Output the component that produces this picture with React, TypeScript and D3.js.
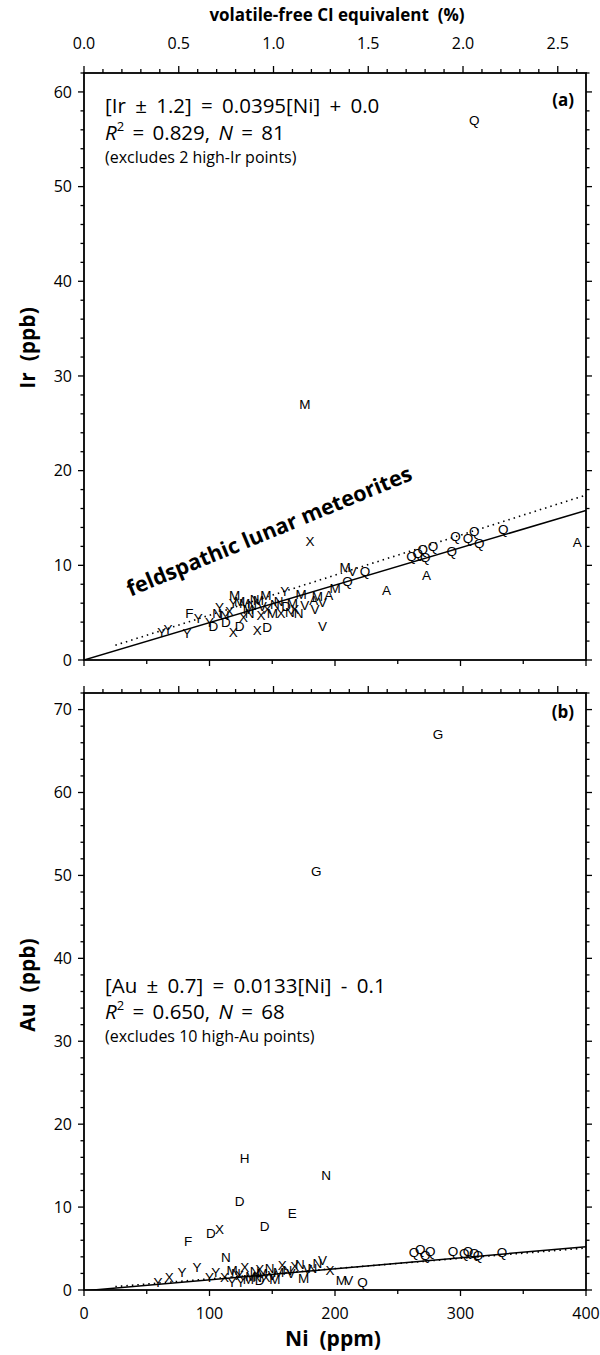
import React from "react";
import * as d3 from "d3";

// Ni ppm per 1% volatile-free CI
const CI_NI_PER_PCT = 151;

const niTicks = [0, 50, 100, 150, 200, 250, 300, 350, 400];
const niLabels = ["0", "100", "200", "300", "400"];
const pctLabels = ["0.0", "0.5", "1.0", "1.5", "2.0", "2.5"];
const irLabels = [0, 10, 20, 30, 40, 50, 60];
const auLabels = [0, 10, 20, 30, 40, 50, 60, 70];

// panel (a): [letter, Ni, Ir]
const irPoints: [string, number, number][] = [
  ["Q", 311, 57], ["M", 176, 27], ["X", 180, 12.6],
  ["A", 393, 12.5], ["A", 273, 9.0], ["A", 241, 7.4],
  ["M", 208, 9.8], ["V", 214, 9.4], ["M", 200, 7.6], ["Q", 210, 8.3], ["V", 190, 3.6],
  ["Q", 224, 9.4], ["Q", 261, 11.0], ["Q", 266, 11.3], ["Q", 270, 11.7], ["Q", 272, 10.9],
  ["Q", 278, 12.0], ["Q", 293, 11.5], ["Q", 296, 13.1], ["Q", 306, 12.9], ["Q", 311, 13.6],
  ["Q", 315, 12.3], ["Q", 334, 13.8],
  ["Y", 62, 2.9], ["Y", 67, 3.3], ["Y", 82, 2.8], ["F", 84, 5.0], ["Y", 91, 4.4],
  ["D", 103, 3.6], ["X", 119, 2.9], ["D", 124, 3.6], ["X", 138, 3.2], ["D", 146, 3.5],
  ["Y", 108, 5.6], ["N", 106, 4.9], ["N", 112, 4.7], ["M", 120, 6.8], ["M", 124, 6.2],
  ["X", 116, 5.2], ["Y", 119, 6.0], ["M", 128, 6.0], ["N", 134, 5.8], ["M", 139, 6.3],
  ["V", 142, 5.7], ["X", 146, 5.4], ["N", 152, 5.9], ["M", 150, 5.0], ["X", 157, 5.0],
  ["D", 161, 5.7], ["N", 164, 5.1], ["X", 168, 5.4], ["N", 171, 5.0], ["V", 176, 5.8],
  ["A", 183, 6.3], ["M", 186, 6.7], ["V", 184, 5.4], ["Y", 160, 7.3], ["M", 173, 7.0],
  ["A", 195, 6.8], ["V", 190, 6.1], ["N", 132, 5.0], ["X", 127, 4.5], ["D", 113, 4.0],
  ["Y", 100, 4.0], ["M", 145, 6.9], ["N", 136, 6.4], ["M", 131, 5.4], ["X", 141, 4.7],
  ["N", 155, 6.2], ["M", 166, 6.0],
];

// panel (b): [letter, Ni, Au]
const auPoints: [string, number, number][] = [
  ["G", 282, 67], ["G", 185, 50.5], ["H", 128, 15.9], ["N", 193, 13.9],
  ["D", 124, 10.7], ["E", 166, 9.3], ["D", 144, 7.7], ["X", 108, 7.4], ["D", 101, 6.9],
  ["F", 83, 5.9],
  ["Q", 263, 4.6], ["Q", 268, 4.9], ["Q", 272, 4.2], ["Q", 276, 4.7], ["Q", 294, 4.7],
  ["Q", 303, 4.4], ["Q", 306, 4.7], ["Q", 311, 4.5], ["Q", 333, 4.6], ["Q", 314, 4.2],
  ["Q", 222, 0.9],
  ["Y", 59, 0.9], ["X", 68, 1.5], ["Y", 78, 2.1], ["Y", 90, 2.8], ["N", 113, 4.0],
  ["Y", 105, 2.2], ["X", 112, 1.5], ["M", 118, 2.4], ["N", 121, 2.0], ["Y", 125, 1.0],
  ["X", 128, 2.8], ["M", 133, 1.7], ["N", 136, 2.3], ["D", 140, 1.2], ["M", 142, 2.0],
  ["X", 145, 1.5], ["N", 148, 2.6], ["V", 150, 1.8], ["M", 155, 2.2], ["X", 158, 3.0],
  ["N", 162, 2.4], ["V", 165, 2.0], ["X", 168, 2.9], ["N", 172, 3.1], ["M", 175, 1.4],
  ["V", 178, 2.5], ["N", 182, 2.6], ["V", 190, 3.6], ["X", 196, 2.4], ["M", 205, 1.2],
  ["V", 211, 1.2], ["Y", 118, 1.0], ["M", 131, 1.3], ["N", 138, 1.6], ["X", 124, 1.8],
  ["Y", 100, 1.6], ["M", 152, 1.3], ["N", 186, 3.2], ["X", 140, 2.5],
];

// fit lines: [slope, intercept, startNi]
const irFit = [0.0395, 0.0, 0];
const irDotted = [0.0423, 0.5, 25];
const auFit = [0.0133, -0.1, 0];
const auDotted = [0.0124, 0.1, 25];

const FONT = "'Open Sans', 'DejaVu Sans', sans-serif";
const MARK_FONT = "'Liberation Sans', Arial, sans-serif";
const SP = "\u00a0 ";

const x = d3.scaleLinear().domain([0, 400]).range([84, 586]);
const xPct = (p: number) => x(p * CI_NI_PER_PCT);
const yA = d3.scaleLinear().domain([0, 62]).range([660, 73]);
const yB = d3.scaleLinear().domain([0, 72]).range([1290, 693]);

const Panel = ({ y, points, fit, dotted, yLabels, topLabels, bottomLabels }: any) => {
  const [y0, y1] = y.range();
  const yMax = y.domain()[1];
  const fitPath = d3.line<number>().x((n) => x(n)).y((n) => y(fit[0] * n + fit[1]))([fit[2], 400]);
  const dotPath = d3.line<number>().x((n) => x(n)).y((n) => y(dotted[0] * n + dotted[1]))([dotted[2], 400]);
  const yTicks = d3.range(0, yMax + 0.001, 2);
  const pctTicks = d3.range(0, 27).map((i) => i / 10);
  return (
    <g>
      <defs>
        <clipPath id={`clip${y0}`}>
          <rect x={84} y={y1} width={502} height={y0 - y1} />
        </clipPath>
      </defs>
      <g clipPath={`url(#clip${y0})`}>
        <path d={fitPath || ""} stroke="#000" strokeWidth={1.5} fill="none" />
        <path d={dotPath || ""} stroke="#000" strokeWidth={1.6} strokeDasharray="1.5,4" fill="none" />
      </g>
      {points.map(([c, ni, v]: [string, number, number], i: number) => (
        <text key={i} x={x(ni)} y={y(v)} dy="0.36em" textAnchor="middle"
          fontFamily={MARK_FONT} fontSize={13.5} fill="#000">{c}</text>
      ))}
      <rect x={84} y={y1} width={502} height={y0 - y1} fill="none" stroke="#000" strokeWidth={1.8} />
      {yTicks.map((t) => {
        const len = t % 10 === 0 ? 6 : 3.5;
        return (
          <g key={t}>
            <line x1={84 - len} x2={84} y1={y(t)} y2={y(t)} stroke="#000" strokeWidth={1.3} />
            <line x1={586} x2={586 + len} y1={y(t)} y2={y(t)} stroke="#000" strokeWidth={1.3} />
          </g>
        );
      })}
      {yLabels.map((t: number) => (
        <text key={t} x={72} y={y(t)} dy="0.36em" textAnchor="end" fontFamily={FONT} fontSize={16}>{t}</text>
      ))}
      {niTicks.map((t) => (
        <line key={t} x1={x(t)} x2={x(t)} y1={y0} y2={y0 + (t % 100 === 0 ? 6 : 4)} stroke="#000" strokeWidth={1.3} />
      ))}
      {pctTicks.map((p, i) => (
        <line key={i} x1={xPct(p)} x2={xPct(p)} y1={y1} y2={y1 - (i % 5 === 0 ? 7 : 4)} stroke="#000" strokeWidth={1.3} />
      ))}
      {topLabels && pctLabels.map((l) => (
        <text key={l} x={xPct(+l)} y={49} textAnchor="middle" fontFamily={FONT} fontSize={16}>{l}</text>
      ))}
      {bottomLabels && niLabels.map((l) => (
        <text key={l} x={x(+l)} y={1319} textAnchor="middle" fontFamily={FONT} fontSize={16}>{l}</text>
      ))}
    </g>
  );
};

export default function App() {
  return (
    <svg width={600} height={1355} style={{ position: "absolute", left: 0, top: 0, background: "#fff" }}>
      <rect width={600} height={1355} fill="#fff" />
      <text x={337} y={21} textAnchor="middle" fontFamily={FONT} fontWeight="bold" fontSize={17}>
        {`volatile-free CI equivalent${SP}(%)`}
      </text>
      <Panel y={yA} points={irPoints} fit={irFit} dotted={irDotted} yLabels={irLabels} topLabels />
      <Panel y={yB} points={auPoints} fit={auFit} dotted={auDotted} yLabels={auLabels} bottomLabels />

      <text transform="translate(35,348) rotate(-90)" textAnchor="middle" fontFamily={FONT} fontWeight="bold" fontSize={21}>
        {`Ir${SP}(ppb)`}
      </text>
      <text transform="translate(35,985) rotate(-90)" textAnchor="middle" fontFamily={FONT} fontWeight="bold" fontSize={21}>
        {`Au${SP}(ppb)`}
      </text>
      <text x={333} y={1346} textAnchor="middle" fontFamily={FONT} fontWeight="bold" fontSize={21}>
        {`Ni${SP}(ppm)`}
      </text>

      <g fontFamily={FONT} fill="#000">
        <text x={105} y={113} fontSize={20.5} wordSpacing={4}>[Ir ± 1.2] = 0.0395[Ni] + 0.0</text>
        <text x={105} y={140} fontSize={20.5} wordSpacing={3}>
          <tspan fontStyle="italic">R</tspan>
          <tspan dy={-9} fontSize={13}>2</tspan>
          <tspan dy={9}>{" = 0.829, "}</tspan>
          <tspan fontStyle="italic">N</tspan>
          <tspan>{" = 81"}</tspan>
        </text>
        <text x={105} y={163} fontSize={16}>(excludes 2 high-Ir points)</text>
        <text x={574} y={106} textAnchor="end" fontSize={17} fontWeight="bold">(a)</text>

        <text x={105} y={993} fontSize={20.5} wordSpacing={4}>[Au ± 0.7] = 0.0133[Ni] - 0.1</text>
        <text x={105} y={1019} fontSize={20.5} wordSpacing={3}>
          <tspan fontStyle="italic">R</tspan>
          <tspan dy={-9} fontSize={13}>2</tspan>
          <tspan dy={9}>{" = 0.650, "}</tspan>
          <tspan fontStyle="italic">N</tspan>
          <tspan>{" = 68"}</tspan>
        </text>
        <text x={105} y={1042} fontSize={16}>(excludes 10 high-Au points)</text>
        <text x={574} y={718} textAnchor="end" fontSize={17} fontWeight="bold">(b)</text>

        <text transform="translate(272,538) rotate(-22.5)" textAnchor="middle" fontSize={21.5} fontWeight="bold">
          feldspathic lunar meteorites
        </text>
      </g>
    </svg>
  );
}
